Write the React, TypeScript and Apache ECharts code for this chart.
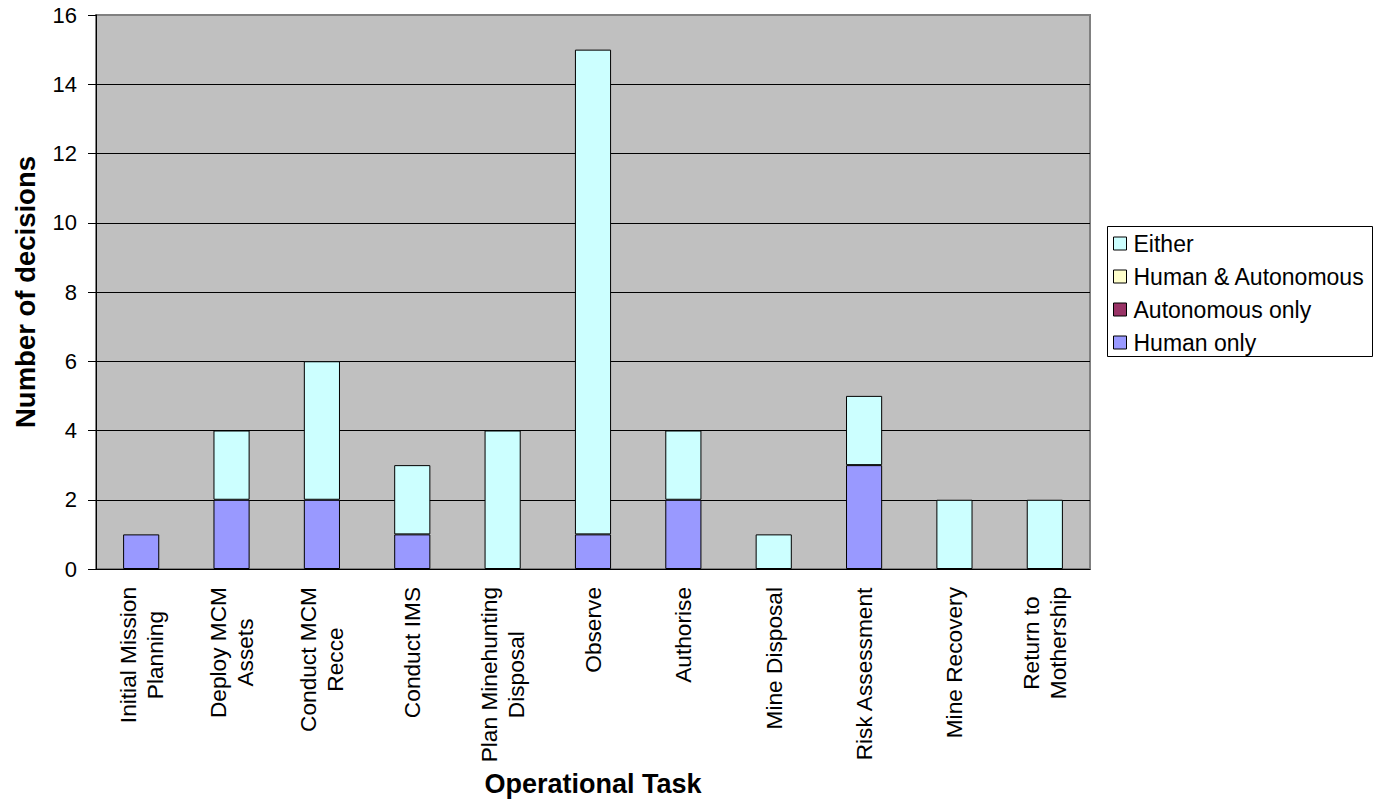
import React, { useEffect, useRef } from "react";
import * as echarts from "echarts";

const categories = [
  "Initial Mission\nPlanning",
  "Deploy MCM\nAssets",
  "Conduct MCM\nRecce",
  "Conduct IMS",
  "Plan Minehunting\nDisposal",
  "Observe",
  "Authorise",
  "Mine Disposal",
  "Risk Assessment",
  "Mine Recovery",
  "Return to\nMothership",
];
const humanOnly = [1, 2, 2, 1, 0, 1, 2, 0, 3, 0, 0];
const autonomousOnly = [0, 0, 0, 0, 0, 0, 0, 0, 0, 0, 0];
const humanAndAutonomous = [0, 0, 0, 0, 0, 0, 0, 0, 0, 0, 0];
const either = [0, 2, 4, 2, 4, 14, 2, 1, 2, 2, 2];

const FONT = "'Liberation Sans', Arial, sans-serif";

export default function App() {
  const ref = useRef<HTMLDivElement>(null);
  useEffect(() => {
    if (!ref.current) return;
    const chart = echarts.init(ref.current, null, { renderer: "svg" });
    const nz = (arr: number[]) => arr.map((v) => (v === 0 ? null : v));
    const mk = (name: string, data: number[], color: string) => ({
      name,
      type: "bar",
      stack: "total",
      barWidth: "40%",
      data: nz(data),
      itemStyle: { color, borderColor: "#000", borderWidth: 1 },
    });
    chart.setOption({
      animation: false,
      textStyle: { fontFamily: FONT },
      grid: {
        left: 96,
        right: 284,
        top: 15,
        bottom: 237,
        show: true,
        backgroundColor: "#C0C0C0",
        borderColor: "#808080",
        borderWidth: 2,
      },
      legend: {
        orient: "vertical",
        left: 1113,
        top: 232,
        padding: 0,
        itemWidth: 13,
        itemHeight: 13,
        itemGap: 10,
        icon: "rect",
        itemStyle: { borderColor: "#000", borderWidth: 1 },
        textStyle: { fontSize: 23, color: "#000", fontFamily: FONT, padding: [0, 0, 0, 2] },
        data: ["Either", "Human & Autonomous", "Autonomous only", "Human only"],
      },
      graphic: [
        {
          type: "rect",
          shape: { x: 1107.5, y: 226.5, width: 265, height: 130 },
          style: { fill: "none", stroke: "#000", lineWidth: 1 },
        },
      ],
      xAxis: {
        type: "category",
        data: categories,
        name: "Operational Task",
        nameLocation: "middle",
        nameGap: 195,
        nameTextStyle: { fontSize: 27, fontWeight: "bold", color: "#000", fontFamily: FONT },
        axisLine: { lineStyle: { color: "#000", width: 1 } },
        axisTick: { length: 6, lineStyle: { color: "#000" } },
        axisLabel: {
          interval: 0,
          rotate: 90,
          margin: 18,
          color: "#000",
          formatter: (v: string) =>
            v
              .split("\n")
              .map((s) => "{a|" + s + "}")
              .join("\n"),
          rich: {
            a: { align: "center", fontSize: 22.7, lineHeight: 27, fontFamily: FONT, color: "#000" },
          },
        },
      },
      yAxis: {
        type: "value",
        min: 0,
        max: 16,
        interval: 2,
        name: "Number of decisions",
        nameLocation: "middle",
        nameRotate: 90,
        nameGap: 57,
        nameTextStyle: { fontSize: 27.5, fontWeight: "bold", color: "#000", fontFamily: FONT },
        axisLine: { show: true, lineStyle: { color: "#000", width: 1 } },
        axisTick: { show: true, length: 8, lineStyle: { color: "#000" } },
        axisLabel: { fontSize: 22, color: "#000", margin: 19, fontFamily: FONT },
        splitLine: { show: true, showMaxLine: false, lineStyle: { color: "#000", width: 1 } },
      },
      series: [
        mk("Human only", humanOnly, "#9999FF"),
        mk("Autonomous only", autonomousOnly, "#993366"),
        mk("Human & Autonomous", humanAndAutonomous, "#FFFFCC"),
        mk("Either", either, "#CCFFFF"),
      ],
    });
    return () => chart.dispose();
  }, []);
  return (
    <div
      ref={ref}
      style={{ position: "fixed", left: 0, top: 0, width: 1374, height: 806, background: "#fff" }}
    />
  );
}
